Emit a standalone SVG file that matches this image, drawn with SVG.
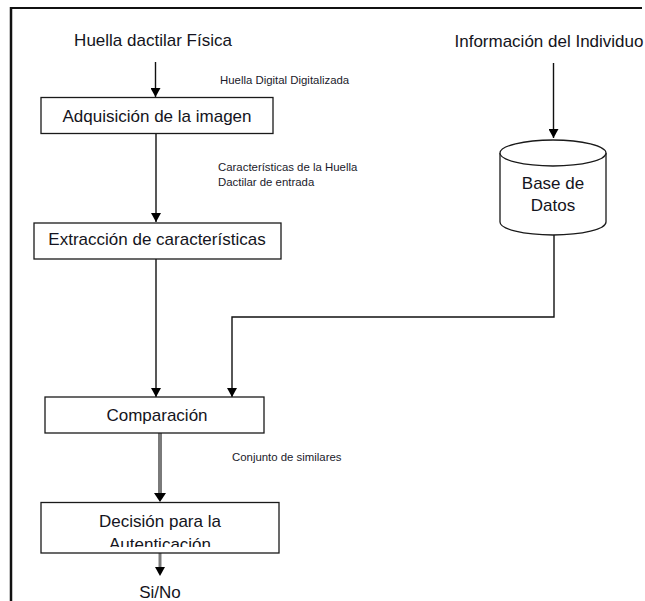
<svg xmlns="http://www.w3.org/2000/svg" width="645" height="601" viewBox="0 0 645 601">
  <style>
    .lbl { font-family: "Liberation Sans", Arial, sans-serif; font-size: 17px; fill: #141420; }
    .small { font-family: "Liberation Sans", Arial, sans-serif; font-size: 11.4px; fill: #1a1a2a; }
    .box { fill: #ffffff; stroke: #1a1a1a; stroke-width: 1.3; }
    .wire { fill: none; stroke: #111111; stroke-width: 1.4; }
    .wire-gray { fill: none; stroke: #7a7a7a; stroke-width: 4; }
  </style>
  <defs>
    <marker id="arrow" viewBox="0 0 9 10" refX="9" refY="5" markerWidth="9" markerHeight="10" markerUnits="userSpaceOnUse" orient="auto">
      <path d="M0,0 L9,5 L0,10 z" fill="#000000"/>
    </marker>
    <marker id="arrow-wide" viewBox="0 0 9 12" refX="9" refY="6" markerWidth="9" markerHeight="12" markerUnits="userSpaceOnUse" orient="auto">
      <path d="M0,0 L9,6 L0,12 z" fill="#000000"/>
    </marker>
    <clipPath id="clip-decision">
      <rect x="42" y="504" width="236" height="43"/>
    </clipPath>
  </defs>

  <rect x="0" y="0" width="645" height="601" fill="#ffffff"/>

  <!-- page frame -->
  <g id="frame">
    <line x1="11" y1="8" x2="642" y2="8" stroke="#111111" stroke-width="2"/>
    <line x1="11" y1="7" x2="11" y2="601" stroke="#111111" stroke-width="2.5"/>
  </g>

  <!-- connectors -->
  <g id="connectors">
    <line class="wire" x1="155.5" y1="62" x2="155.5" y2="97" marker-end="url(#arrow)"/>
    <line class="wire" x1="553.5" y1="63" x2="553.5" y2="138" marker-end="url(#arrow)"/>
    <line class="wire" x1="156" y1="134" x2="156" y2="222" marker-end="url(#arrow)"/>
    <line class="wire" x1="156" y1="259" x2="156" y2="397" marker-end="url(#arrow)"/>
    <polyline class="wire" points="554,235 554,317 232,317 232,397" marker-end="url(#arrow)"/>
    <line class="wire-gray" x1="160" y1="433" x2="160" y2="493"/>
    <path d="M154,493 L166,493 L160,502 z" fill="#000000"/>
    <line class="wire-gray" x1="160" y1="553" x2="160" y2="567" style="stroke-width:3"/>
    <path d="M155,567 L165,567 L160,576 z" fill="#000000"/>
  </g>

  <!-- edge labels -->
  <g id="edge-labels">
    <text class="small" x="220" y="84">Huella Digital Digitalizada</text>
    <text class="small" x="218" y="171">Características de la Huella</text>
    <text class="small" x="218" y="186">Dactilar de entrada</text>
    <text class="small" x="232" y="461">Conjunto de similares</text>
  </g>

  <g id="input-fingerprint">
    <text class="lbl" x="153" y="46" text-anchor="middle">Huella dactilar Física</text>
  </g>

  <g id="input-individual">
    <text class="lbl" x="549" y="47" text-anchor="middle">Información del Individuo</text>
  </g>

  <g id="acquisition">
    <rect class="box" x="41" y="97.5" width="232" height="36"/>
    <text class="lbl" x="157" y="122" text-anchor="middle">Adquisición de la imagen</text>
  </g>

  <g id="database">
    <path d="M500,153 L500,222 A53,13 0 0 0 606,222 L606,153" fill="#ffffff" stroke="#1a1a1a" stroke-width="1.3"/>
    <ellipse cx="553" cy="153" rx="53" ry="13" fill="#ffffff" stroke="#1a1a1a" stroke-width="1.3"/>
    <text class="lbl" x="553" y="189" text-anchor="middle">Base de</text>
    <text class="lbl" x="553" y="211" text-anchor="middle">Datos</text>
  </g>

  <g id="extraction">
    <rect class="box" x="34" y="223" width="247" height="36"/>
    <text class="lbl" x="157" y="245" text-anchor="middle">Extracción de características</text>
  </g>

  <g id="comparison">
    <rect class="box" x="45" y="397" width="219" height="36"/>
    <text class="lbl" x="157" y="421" text-anchor="middle">Comparación</text>
  </g>

  <g id="decision">
    <rect class="box" x="41" y="502.5" width="238" height="50.5"/>
    <g clip-path="url(#clip-decision)">
      <text class="lbl" x="160" y="527" text-anchor="middle">Decisión para la</text>
      <text class="lbl" x="160" y="550" text-anchor="middle">Autenticación</text>
    </g>
  </g>

  <g id="result">
    <text class="lbl" x="160" y="598" text-anchor="middle">Si/No</text>
  </g>
</svg>
